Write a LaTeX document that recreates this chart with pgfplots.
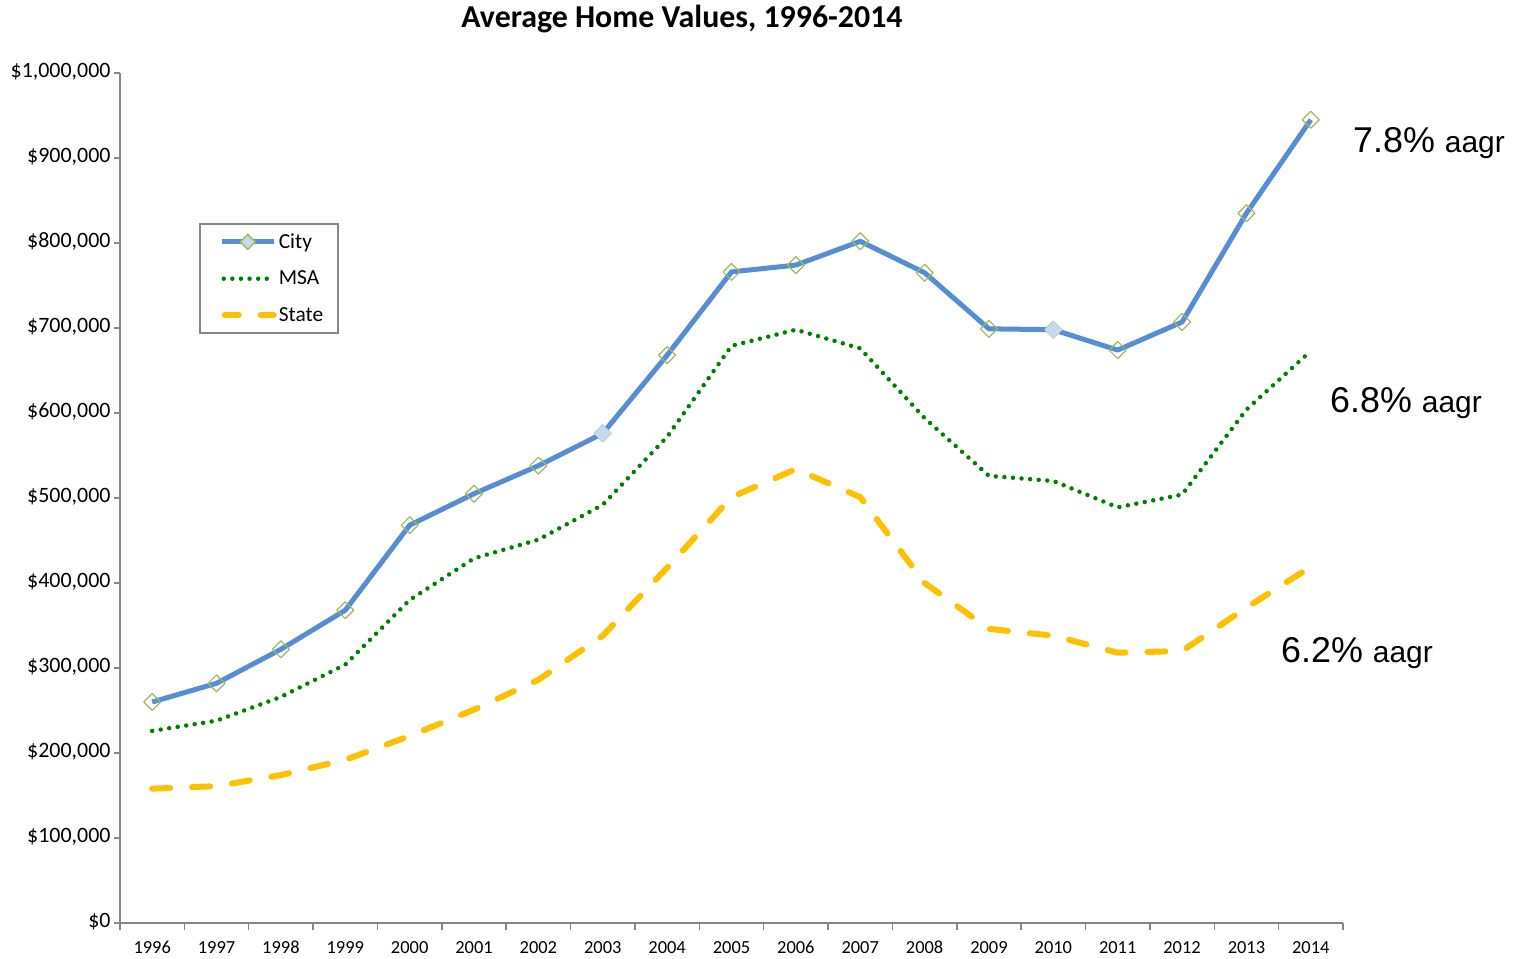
\documentclass[border=0pt]{standalone}
\usepackage{pgfplots}
\pgfplotsset{compat=1.18}
\usepackage{fontspec}
\setmainfont{Carlito}
\newfontfamily\arialfont{Liberation Sans}
\definecolor{citycol}{RGB}{85,142,213}
\definecolor{mkgreen}{RGB}{155,187,89}
\definecolor{mkfill}{RGB}{198,217,241}
\definecolor{msacol}{RGB}{0,128,0}
\definecolor{statecol}{RGB}{255,192,0}
\definecolor{axgray}{RGB}{134,134,134}
\pgfplotstableread{
x city msa state
0 260000 226000 158000
1 282000 238000 161000
2 322000 266000 174000
3 368000 304000 192000
4 468000 380000 220000
5 505000 429000 251000
6 538000 451000 286000
7 576000 492000 338000
8 668000 572000 418000
9 766000 679000 501000
10 774000 698000 534000
11 802000 676000 501000
12 765000 594000 400000
13 699000 526000 346000
14 698000 520000 338000
15 674000 489000 318000
16 707000 504000 320000
17 835000 604000 371000
18 945000 673000 419000
}\datatable
\pgfplotstableread{
x city
7 576000
14 698000
}\specialtable
\begin{document}
\begin{tikzpicture}
\path[use as bounding box] (0,0) rectangle (1523bp,959bp);
\begin{axis}[
  at={(120bp,36bp)}, anchor=south west,
  scale only axis, width=1223bp, height=850bp,
  xmin=-0.5, xmax=18.5, ymin=0, ymax=1000000,
  axis x line*=bottom, axis y line*=left,
  axis line style={axgray, line width=1.5bp},
  tick align=outside,
  every tick/.style={axgray, line width=1.5bp},
  major tick length=6bp, minor tick length=7bp,
  xtick={0,...,18},
  xticklabels={1996,1997,1998,1999,2000,2001,2002,2003,2004,2005,2006,2007,2008,2009,2010,2011,2012,2013,2014},
  major x tick style={draw=none},
  minor xtick={-0.5,0.5,...,18.5},
  ytick={0,100000,...,1000000},
  yticklabels={{\$0},{\$100,000},{\$200,000},{\$300,000},{\$400,000},{\$500,000},{\$600,000},{\$700,000},{\$800,000},{\$900,000},{\$1,000,000}},
  scaled y ticks=false,
  typeset ticklabels with strut,
  xticklabel style={font=\fontsize{18.5}{20}\selectfont, text=black, yshift=-7bp},
  yticklabel style={font=\fontsize{22}{24}\selectfont, text=black},
  legend style={at={(0.0646,0.8235)}, anchor=north west, draw=axgray, line width=1.5bp,
    font=\fontsize{21.5}{23}\selectfont, row sep=17bp, inner xsep=13bp, inner ysep=8bp,
    nodes={inner sep=2bp}},
  legend cell align=left,
]
\addlegendimage{legend image code/.code={
  \path[draw=none,fill=none] (0bp,0bp) -- (61bp,0bp);
  \draw[citycol,line width=5bp] (9bp,0bp)--(61bp,0bp);
  \draw[mkgreen, fill=mkfill, line width=1.3bp] (35bp,0bp) +(0,7.5bp) -- +(7.5bp,0) -- +(0,-7.5bp) -- +(-7.5bp,0) -- cycle;}}
\addlegendentry{City}
\addlegendimage{legend image code/.code={
  \path[draw=none,fill=none] (0bp,0bp) -- (61bp,0bp);
  \draw[msacol,line width=4.5bp,line cap=round,dash pattern=on 0bp off 8.6bp] (11bp,0bp)--(61bp,0bp);}}
\addlegendentry{MSA}
\addlegendimage{legend image code/.code={
  \path[draw=none,fill=none] (0bp,0bp) -- (61bp,0bp);
  \draw[statecol,line width=6bp,line cap=round,dash pattern=on 14bp off 22bp] (12bp,0bp)--(61bp,0bp);}}
\addlegendentry{State}

\addplot[forget plot, statecol, line width=6bp, line cap=round, dash pattern=on 18bp off 22bp, no marks] table[x=x,y=state] {\datatable};
\addplot[forget plot, msacol, line width=4.5bp, line cap=round, dash pattern=on 0bp off 8.6bp, no marks] table[x=x,y=msa] {\datatable};
\addplot[forget plot, citycol, line width=5bp, line join=round, mark=square, mark size=6bp,
  mark options={rotate=45, draw=mkgreen, fill=none, line width=1.2bp, solid}] table[x=x,y=city] {\datatable};
\addplot[forget plot, only marks, mark=square*, mark size=6bp,
  mark options={rotate=45, draw=mkfill, fill=mkfill}] table[x=x,y=city] {\specialtable};
\end{axis}
\node[anchor=base, inner sep=0pt, font=\fontsize{32}{34}\selectfont\bfseries] at (682bp,931bp) {Average Home Values, 1996-2014};
\node[anchor=base west, inner sep=0pt, font=\arialfont] at (1353bp,806bp) {\fontsize{36}{38}\selectfont 7.8\% \fontsize{30}{31}\selectfont aagr};
\node[anchor=base west, inner sep=0pt, font=\arialfont] at (1330bp,546bp) {\fontsize{36}{38}\selectfont 6.8\% \fontsize{30}{31}\selectfont aagr};
\node[anchor=base west, inner sep=0pt, font=\arialfont] at (1281bp,296bp) {\fontsize{36}{38}\selectfont 6.2\% \fontsize{30}{31}\selectfont aagr};
\end{tikzpicture}
\end{document}
